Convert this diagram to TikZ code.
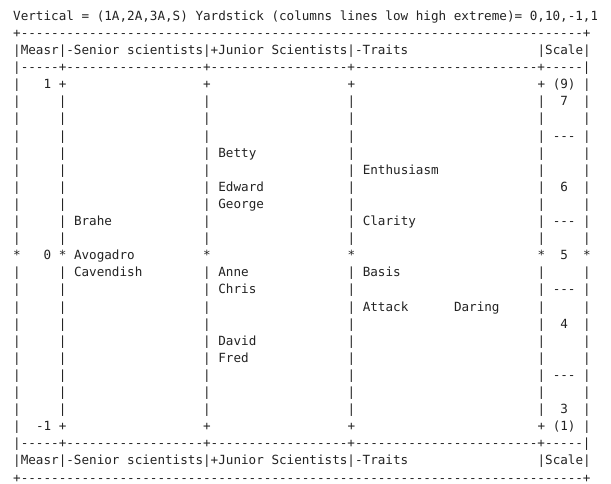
\documentclass[tikz,border=0pt]{standalone}
\usepackage{fontspec}
\setmonofont{DejaVu Sans Mono}
\definecolor{ink}{RGB}{34,34,34}
\newcommand\rulerfont{\fontsize{12.62}{15}\selectfont\ttfamily\frenchspacing}
\newcommand\dashes[1]{\foreach \i in {1,...,#1}{-}}
\begin{document}
\begin{tikzpicture}[
  cell/.style={anchor=base west,inner sep=0pt,outer sep=0pt,font=\rulerfont,text=ink},
]
\path[use as bounding box] (0,0) rectangle (611pt,-483pt);
%
% Titelzeile, rechts abgeschnitten
\begin{scope}
  \clip (0,0) rectangle (596pt,-40pt);
  \node[cell] (title) at (13.2pt,-20.3pt)
    {Vertical = (1A,2A,3A,S) Yardstick (columns lines low high extreme)= 0,10,-1,1};
\end{scope}
%
% Raster: x = Spalte, y = Zeile
\begin{scope}[shift={(13.2pt,-20.3pt)},x=7.6pt,y=-17.1pt]
  % Rahmen und Kopfzeilen
  \node[cell] (border-top) at (0,1) {+\dashes{74}+};
  \node[cell] (head-top) at (0,2) {|Measr|-Senior scientists|+Junior Scientists|-Traits};
  \node[cell] (scale-top) at (69,2) {|Scale|};
  \node[cell] (rule-top) at (0,3) {|\dashes{5}+\dashes{18}+\dashes{18}+\dashes{24}+\dashes{5}|};
  \node[cell] (rule-bot) at (0,25) {|\dashes{5}+\dashes{18}+\dashes{18}+\dashes{24}+\dashes{5}|};
  \node[cell] (head-bot) at (0,26) {|Measr|-Senior scientists|+Junior Scientists|-Traits};
  \node[cell] (scale-bot) at (69,26) {|Scale|};
  \node[cell] (border-bot) at (0,27) {+\dashes{74}+};
  % Spaltenlinien
  \foreach \r in {5,...,13,15,16,...,23}
    \foreach \c in {0,6,25,44,69,75}
      \node[cell] (bar-\c-\r) at (\c,\r) {|};
  \foreach \c in {0,75} {
    \node[cell] (bar-\c-4) at (\c,4) {|};
    \node[cell] (bar-\c-24) at (\c,24) {|};
  }
  \foreach \c in {6,25,44,69} {
    \node[cell] (tick-\c-4) at (\c,4) {+};
    \node[cell] (tick-\c-24) at (\c,24) {+};
  }
  \foreach \c in {0,6,25,44,69,75}
    \node[cell] (star-\c) at (\c,14) {*};
  % Measr
  \node[cell] (m-hi) at (4,4) {1};
  \node[cell] (m-mid) at (4,14) {0};
  \node[cell] (m-lo) at (3,24) {-1};
  % Senior scientists
  \node[cell] (brahe) at (8,12) {Brahe};
  \node[cell] (avogadro) at (8,14) {Avogadro};
  \node[cell] (cavendish) at (8,15) {Cavendish};
  % Junior Scientists
  \node[cell] (betty) at (27,8) {Betty};
  \node[cell] (edward) at (27,10) {Edward};
  \node[cell] (george) at (27,11) {George};
  \node[cell] (anne) at (27,15) {Anne};
  \node[cell] (chris) at (27,16) {Chris};
  \node[cell] (david) at (27,19) {David};
  \node[cell] (fred) at (27,20) {Fred};
  % Traits
  \node[cell] (enthusiasm) at (46,9) {Enthusiasm};
  \node[cell] (clarity) at (46,12) {Clarity};
  \node[cell] (basis) at (46,15) {Basis};
  \node[cell] (attack) at (46,17) {Attack};
  \node[cell] (daring) at (58,17) {Daring};
  % Scale
  \node[cell] (s-top) at (71,4) {(9)};
  \node[cell] (s-7) at (72,5) {7};
  \node[cell] (s-cut7) at (71,7) {---};
  \node[cell] (s-6) at (72,10) {6};
  \node[cell] (s-cut6) at (71,12) {---};
  \node[cell] (s-5) at (72,14) {5};
  \node[cell] (s-cut5) at (71,16) {---};
  \node[cell] (s-4) at (72,18) {4};
  \node[cell] (s-cut4) at (71,21) {---};
  \node[cell] (s-3) at (72,23) {3};
  \node[cell] (s-bot) at (71,24) {(1)};
\end{scope}
\end{tikzpicture}
\end{document}
